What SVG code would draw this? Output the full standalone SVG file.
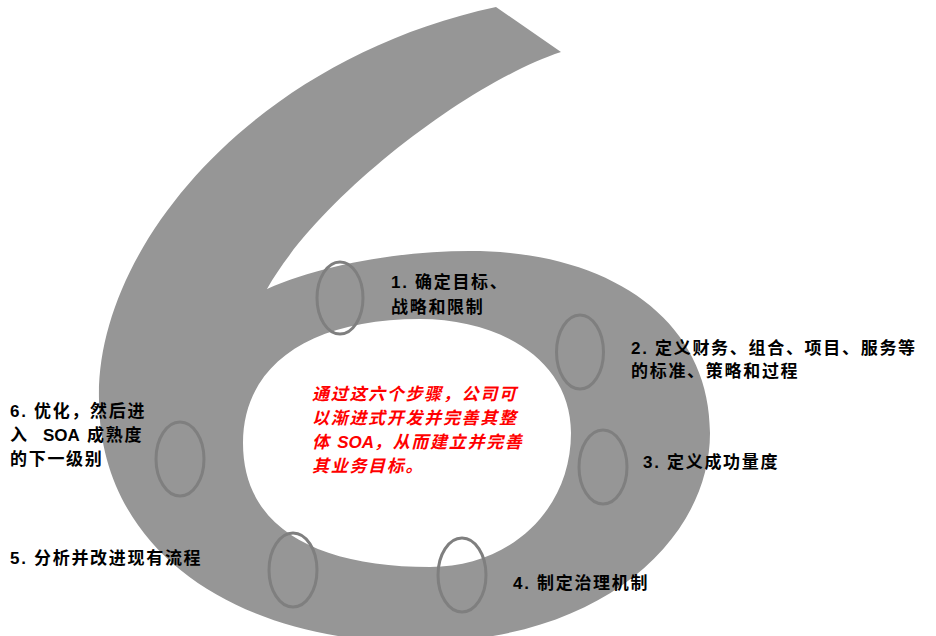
<svg xmlns="http://www.w3.org/2000/svg" width="936" height="636" viewBox="0 0 936 636">
<style>
.ring{fill:none;stroke:#7f7f7f;stroke-width:3}
.lbl{font-family:"Liberation Sans","Noto Sans CJK SC",sans-serif;font-weight:bold;font-size:17px;letter-spacing:1.7px;fill:#000}
.ctr{font-family:"Liberation Sans","Noto Sans CJK SC",sans-serif;font-weight:bold;font-style:italic;font-size:17px;letter-spacing:1.7px;fill:#ff0000}
.lat{letter-spacing:0}
</style>
<rect width="936" height="636" fill="#fff"/>
<g id="six">
<path fill="#969696" fill-rule="evenodd" d="M496,7 L561,52 C470,82 320,195 267,289 C320,265 400,251 470,251 C610,251 710,320 710,433 C710,540 600,642 420,642 C250,644 100,560 99,400 C95,250 250,60 496,7 Z M420,319 C500,319 571,360 571,433 C571,510 510,567 430,567 C320,567 243,530 243,443 C243,365 310,319 420,319 Z"/>
</g>
<g id="step1">
<ellipse class="ring" cx="340" cy="298" rx="23" ry="36"/>
<text class="lbl" x="391" y="288">1. 确定目标、</text>
<text class="lbl" x="391" y="313">战略和限制</text>
</g>
<g id="step2">
<ellipse class="ring" cx="580" cy="352" rx="23.5" ry="37"/>
<text class="lbl" x="631" y="354">2. 定义财务、组合、项目、服务等</text>
<text class="lbl" x="631" y="377">的标准、策略和过程</text>
</g>
<g id="step3">
<ellipse class="ring" cx="603" cy="467" rx="24" ry="37"/>
<text class="lbl" x="643" y="468">3. 定义成功量度</text>
</g>
<g id="step4">
<ellipse class="ring" cx="462" cy="575" rx="24" ry="37"/>
<text class="lbl" x="513" y="589">4. 制定治理机制</text>
</g>
<g id="step5">
<ellipse class="ring" cx="293" cy="570" rx="24" ry="37"/>
<text class="lbl" x="10" y="564">5. 分析并改进现有流程</text>
</g>
<g id="step6">
<ellipse class="ring" cx="180" cy="459" rx="24" ry="37"/>
<text class="lbl" x="10" y="417">6. 优化，然后进</text>
<text class="lbl" y="441"><tspan x="10">入</tspan><tspan class="lat" x="43">SOA</tspan><tspan x="87">成熟度</tspan></text>
<text class="lbl" x="10" y="465">的下一级别</text>
</g>
<g id="center-text">
<text class="ctr" x="312" y="400">通过这六个步骤，公司可</text>
<text class="ctr" x="312" y="424">以渐进式开发并完善其整</text>
<text class="ctr" x="312" y="448">体 <tspan class="lat">SOA</tspan>，从而建立并完善</text>
<text class="ctr" x="312" y="472">其业务目标。</text>
</g>
</svg>
